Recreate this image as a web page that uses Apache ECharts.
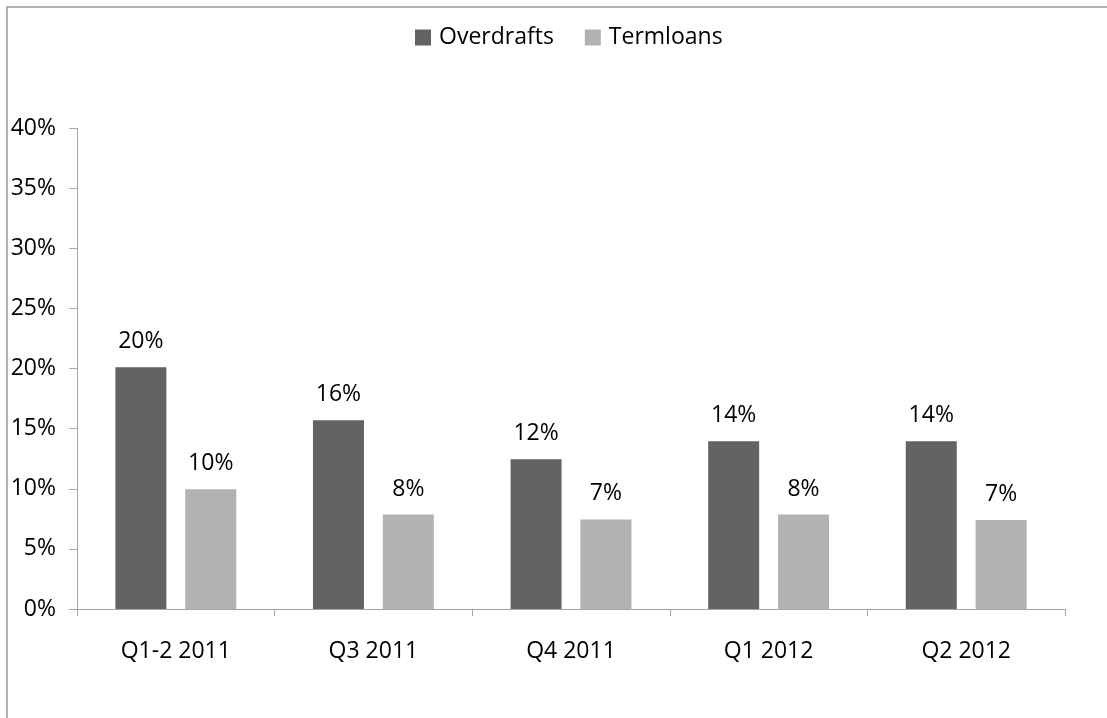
<!DOCTYPE html>
<html>
<head>
<meta charset="utf-8">
<script src="https://cdn.jsdelivr.net/npm/echarts@6/dist/echarts.min.js"></script>
<style>
  html, body { margin: 0; padding: 0; background: #fff; }
  #chart { width: 1107px; height: 718px; }
</style>
</head>
<body>
<div id="chart"></div>
<script>
// 数据
const categories = ["Q1-2 2011", "Q3 2011", "Q4 2011", "Q1 2012", "Q2 2012"];
const overdrafts = [20.1, 15.7, 12.45, 13.95, 13.95];
const termloans = [9.95, 7.85, 7.45, 7.85, 7.4];
const yTicks = [0, 5, 10, 15, 20, 25, 30, 35, 40];

const font = "Open Sans";
const txt = { fontFamily: font, fontSize: 23, color: "#000" };

let myChart = echarts.init(document.getElementById("chart"));
const barLabel = {
  show: true,
  position: "top",
  distance: 14,
  ...txt,
  formatter: (p) => Math.round(p.value) + "%",
};
const option = {
  animation: false,
  textStyle: { fontFamily: font },
  graphic: [
    {
      type: "rect",
      shape: { x: 7, y: 7, width: 1200, height: 800 },
      style: { fill: "none", stroke: "#9a9a9a", lineWidth: 1.5 },
    },
  ],
  legend: {
    left: 410,
    top: 21,
    itemWidth: 16,
    itemHeight: 16,
    itemGap: 31,
    icon: "rect",
    textStyle: { ...txt, padding: [0, 0, 0, 3] },
    data: ["Overdrafts", "Termloans"],
  },
  grid: {
    left: 77,
    right: 42,
    top: 128,
    bottom: 109,
  },
  xAxis: {
    type: "category",
    data: categories,
    axisLine: { lineStyle: { color: "#a6a6a6", width: 1 } },
    axisTick: { show: true, length: 7, lineStyle: { color: "#a6a6a6" } },
    axisLabel: { ...txt, margin: 31 },
  },
  yAxis: {
    type: "value",
    min: yTicks[0],
    max: yTicks[yTicks.length - 1],
    interval: 5,
    splitLine: { show: false },
    axisLine: { show: true, lineStyle: { color: "#a6a6a6", width: 1 } },
    axisTick: { show: true, length: 8, lineStyle: { color: "#a6a6a6" } },
    axisLabel: { ...txt, margin: 21, formatter: "{value}%" },
  },
  series: [
    {
      name: "Overdrafts",
      type: "bar",
      data: overdrafts,
      barWidth: 51,
      barGap: "37%",
      itemStyle: { color: "#636363" },
      label: barLabel,
    },
    {
      name: "Termloans",
      type: "bar",
      data: termloans,
      barWidth: 51,
      itemStyle: { color: "#b2b2b2" },
      label: barLabel,
    },
  ],
};
myChart.setOption(option);
</script>
</body>
</html>
